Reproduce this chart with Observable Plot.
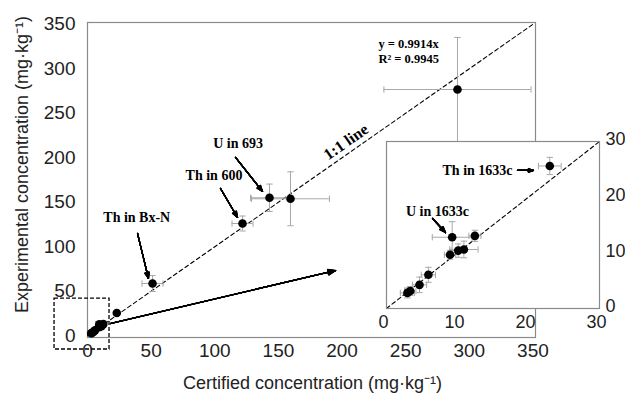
<!DOCTYPE html>
<html><head><meta charset="utf-8">
<script src="https://cdn.jsdelivr.net/npm/d3@7"></script>
<script src="https://cdn.jsdelivr.net/npm/@observablehq/plot@0.6"></script>
<style>
body{margin:0;background:#fff}
#wrap{position:relative;width:625px;height:395px;overflow:hidden}
#wrap svg{position:absolute;left:0;top:0}
</style></head><body><div id="wrap"></div>
<script>
// ---- data: low-concentration samples (shown in both main plot and inset)
const lowCert = [2.95, 3.35, 4.65, 5.9, 8.95, 10.1, 10.9, 9.25, 12.45, 23.0];
const lowExp  = [2.8, 3.15, 4.25, 6.05, 9.65, 10.4, 10.6, 12.8, 13.05, 25.6];
const lowCertErr = [1.0, 0.8, 1.0, 1.0, 0.8, 1.0, 2.0, 2.8, 0.85, 1.6];
const lowExpErr  = [0.9, 0.8, 1.4, 1.35, 0.8, 1.2, 1.5, 2.8, 1.0, 1.55];
// ---- data: high-concentration samples
const highCert = [51.1, 121.8, 143.0, 159.5, 290.7];
const highExp  = [58.7, 126.1, 155.0, 153.9, 276.7];
const highCertErr = [8.25, 8.25, 14.9, 30.6, 57.8];
const highExpErr  = [9.0, 8.4, 15.4, 30.3, 58.5];
// ---- axes
const mainTicks = [0, 50, 100, 150, 200, 250, 300, 350];
const insetTicks = [0, 10, 20, 30];
const mainIdentity = [0, 350];
const insetIdentity = [0, 30];
// ---- texts
const xTitle = "Certified concentration (mg·kg⁻¹)";
const yTitle = "Experimental concentration (mg·kg⁻¹)";
const eqLines = ["y = 0.9914x", "R² = 0.9945"];
const eqY = [328.0, 310.6];
const mainLabels = ["U in 693", "Th in 600", "Th in Bx-N"];
const mainLabelX = [118.3, 99.4, 38.7];
const mainLabelY = [216.0, 179.5, 132.3];
const mainArrows = [
  {x1: 116.3, y1: 200.3, x2: 137.5, y2: 162.1},
  {x1: 104.5, y1: 165.5, x2: 117.9, y2: 132.9},
  {x1: 39.3, y1: 114.9, x2: 47.9, y2: 64.3}
];
const zoomArrow = [{x1: 18.1, y1: 13.7, x2: 194.9, y2: 73.3}];
const zoomBox = [{x1: -25.9, x2: 17.3, y1: -15.5, y2: 41.8}];
const insetLabels = ["Th in 1633c", "U in 1633c"];
const insetArrows = [
  {x1: 18.45, y1: 24.8, x2: 20.7, y2: 24.8},
  {x1: 6.48, y1: 16.17, x2: 8.31, y2: 13.65}
];

const lowData = lowCert.map((x, i) => ({x, y: lowExp[i], xe: lowCertErr[i], ye: lowExpErr[i]}));
const highData = highCert.map((x, i) => ({x, y: highExp[i], xe: highCertErr[i], ye: highExpErr[i]}));
const allData = lowData.concat(highData);

const errColor = "#a8a8a8";
const frameColor = "#8a8a8a";
const hCap = {draw(ctx, size) { const r = Math.sqrt(size / Math.PI); ctx.moveTo(-r, 0); ctx.lineTo(r, 0); }};
const vCap = {draw(ctx, size) { const r = Math.sqrt(size / Math.PI); ctx.moveTo(0, -r); ctx.lineTo(0, r); }};

function errorBars(data, cap) {
  return [
    Plot.ruleX(data, {x: "x", y1: d => d.y - d.ye, y2: d => d.y + d.ye, stroke: errColor, strokeWidth: 1}),
    Plot.ruleY(data, {y: "y", x1: d => d.x - d.xe, x2: d => d.x + d.xe, stroke: errColor, strokeWidth: 1}),
    Plot.dot(data, {x: "x", y: d => d.y - d.ye, symbol: hCap, r: cap, stroke: errColor, fill: "none", strokeWidth: 1}),
    Plot.dot(data, {x: "x", y: d => d.y + d.ye, symbol: hCap, r: cap, stroke: errColor, fill: "none", strokeWidth: 1}),
    Plot.dot(data, {x: d => d.x - d.xe, y: "y", symbol: vCap, r: cap, stroke: errColor, fill: "none", strokeWidth: 1}),
    Plot.dot(data, {x: d => d.x + d.xe, y: "y", symbol: vCap, r: cap, stroke: errColor, fill: "none", strokeWidth: 1})
  ];
}
function fanArrow(data, len, width) {
  const out = [];
  for (let a = 0; a <= 44; a += 4) {
    out.push(Plot.arrow(data, {x1: "x1", y1: "y1", x2: "x2", y2: "y2", stroke: "black",
      strokeWidth: a === 0 ? width : 1.2, headAngle: a, headLength: a === 0 ? 0.01 : len}));
  }
  return out;
}
const serifBold = {fontFamily: "'Liberation Serif', 'Times New Roman', serif", fontWeight: "bold", fill: "black"};

const main = Plot.plot({
  width: 625, height: 395,
  marginLeft: 87, marginRight: 90, marginTop: 22, marginBottom: 58,
  style: {fontFamily: "'Liberation Sans', Arial, sans-serif", fontSize: "19px", overflow: "visible", background: "transparent", color: "#222"},
  x: {domain: [0, 352], ticks: mainTicks, tickSize: 0, tickPadding: 6, label: null},
  y: {domain: [-2, 352], ticks: mainTicks, tickSize: 0, tickPadding: 12, label: null},
  marks: [
    Plot.frame({stroke: frameColor, strokeWidth: 1.2}),
    Plot.line(mainIdentity, {x: d => d, y: d => d, stroke: "black", strokeWidth: 1.1, strokeDasharray: "4,3"}),
    ...errorBars(allData, 3.2),
    Plot.dot(allData, {x: "x", y: "y", r: 4.3, fill: "black"}),
    Plot.rect(zoomBox, {x1: "x1", x2: "x2", y1: "y1", y2: "y2", fill: "none", stroke: "black", strokeWidth: 1.3, strokeDasharray: "4,2"}),
    ...fanArrow(zoomArrow, 10, 1.4),
    ...fanArrow(mainArrows, 8, 1.1),
    Plot.text(mainLabels, {x: (d, i) => mainLabelX[i], y: (d, i) => mainLabelY[i], text: d => d, fontSize: 14, ...serifBold}),
    Plot.text(eqLines, {x: 228.6, y: (d, i) => eqY[i], text: d => d, textAnchor: "start", fontSize: 12.5, ...serifBold}),
    Plot.text(["1:1 line"], {x: 203.1, y: 217.7, text: d => d, rotate: -35, fontSize: 16, ...serifBold}),
    Plot.text([xTitle], {x: 176.8, y: -53.7, text: d => d, fontSize: 18, fill: "#222"}),
    Plot.text([yTitle], {x: -51.1, y: 192.4, text: d => d, rotate: -90, fontSize: 18, fill: "#222"})
  ]
});

const hasAxisMarks = typeof Plot.axisX === "function" && typeof Plot.axisY === "function";
const insetAxes = hasAxisMarks ? [
  Plot.axisX({ticks: insetTicks, tickSize: 0, tickPadding: 7, dx: -3, label: null}),
  Plot.axisY({anchor: "right", ticks: insetTicks, tickSize: 0, tickPadding: 6, dy: -2, label: null})
] : [];

const inset = Plot.plot({
  width: 249, height: 202,
  marginLeft: 10, marginRight: 26, marginTop: 10, marginBottom: 25,
  style: {fontFamily: "'Liberation Sans', Arial, sans-serif", fontSize: "18px", overflow: "visible", background: "transparent", color: "#222"},
  x: hasAxisMarks ? {domain: [0, 30]} : {domain: [0, 30], ticks: insetTicks, tickSize: 0, tickPadding: 7, label: null},
  y: hasAxisMarks ? {domain: [0, 30]} : {domain: [0, 30], ticks: insetTicks, tickSize: 0, tickPadding: 6, axis: "right", label: null},
  marks: [
    Plot.frame({fill: "white", stroke: "none"}),
    Plot.line(insetIdentity, {x: d => d, y: d => d, stroke: "black", strokeWidth: 1.1, strokeDasharray: "4,3"}),
    ...errorBars(lowData, 3.2),
    Plot.dot(lowData, {x: "x", y: "y", r: 4.3, fill: "black"}),
    ...fanArrow(insetArrows, 8, 1.1),
    Plot.text([insetLabels[0]], {x: 17.75, y: 24.8, text: d => d, textAnchor: "end", fontSize: 14, ...serifBold}),
    Plot.text([insetLabels[1]], {x: 7.18, y: 17.4, text: d => d, fontSize: 14, ...serifBold}),
    Plot.frame({stroke: frameColor, strokeWidth: 1.2}),
    ...insetAxes
  ]
});

const wrap = document.getElementById("wrap");
wrap.appendChild(main);
inset.style.left = "376px";
inset.style.top = "131px";
wrap.appendChild(inset);
</script></body></html>
